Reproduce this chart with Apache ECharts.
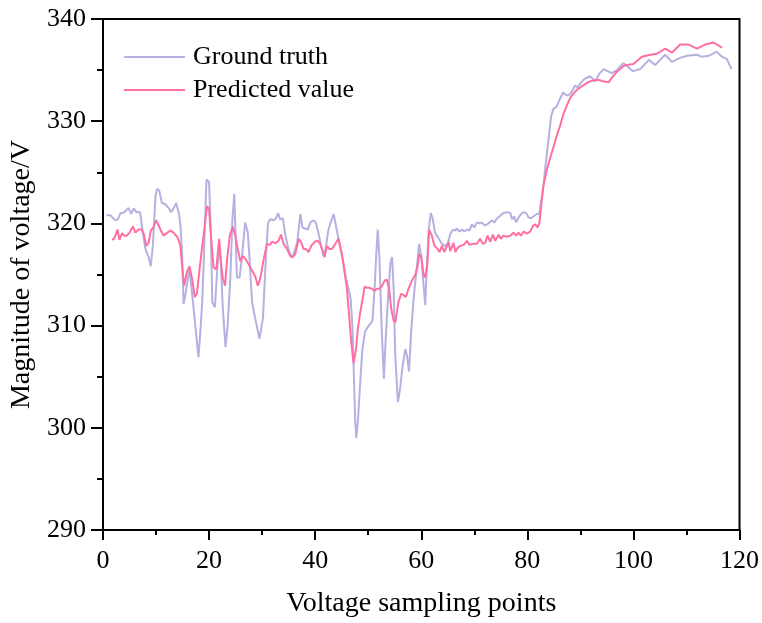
<!DOCTYPE html>
<html>
<head>
<meta charset="utf-8">
<script src="https://cdn.jsdelivr.net/npm/echarts@6/dist/echarts.min.js"></script>
<style>
html,body{margin:0;padding:0;background:#fff;}
#chart{width:762px;height:623px;}
</style>
</head>
<body>
<div id="chart"></div>
<script>
// Ground truth: sample positions and voltages
const gtX = [0.7,1.4,2.3,2.8,3.3,3.9,4.8,5.3,5.8,6.3,6.6,7.0,7.5,8.0,8.6,9.0,9.4,9.9,10.2,10.6,11.1,11.7,12.4,12.8,13.3,13.8,14.3,14.6,14.9,15.2,15.5,16.0,16.3,16.6,17.1,17.6,18.0,18.3,18.7,19.1,19.5,20.0,20.35,20.6,21.1,21.5,21.9,22.2,22.6,23.1,23.5,24.0,24.4,24.75,25.0,25.25,25.75,26.2,26.8,27.3,27.6,28.1,28.7,29.5,30.15,30.6,31.1,31.5,32.2,32.6,33.0,33.4,33.9,34.4,34.9,35.5,35.9,36.6,37.2,37.6,38.1,38.6,39.1,39.7,40.1,40.6,41.15,41.6,42.0,42.5,43.0,43.5,43.9,44.4,44.9,45.4,45.8,46.3,46.7,47.05,47.3,47.55,47.75,48.05,48.5,48.9,49.4,50.1,50.6,50.8,51.2,51.5,51.8,52.1,52.5,52.95,53.3,53.8,54.2,54.5,54.8,55.1,55.6,56.0,56.5,57.0,57.3,57.7,58.1,58.55,59.2,59.6,60.0,60.4,60.75,61.0,61.4,61.8,62.1,62.6,63.3,63.9,64.5,65.0,65.5,66.0,66.4,66.7,67.2,67.7,68.1,68.6,69.1,69.55,70.0,70.5,71.0,71.4,71.9,72.4,72.9,73.3,73.8,74.3,74.8,75.2,75.65,76.3,76.8,77.1,77.5,77.9,78.35,78.8,79.3,79.8,80.2,80.7,81.2,81.7,82.3,83.0,83.5,84.0,84.5,84.9,85.5,86.0,86.7,87.2,87.7,88.3,89.0,89.5,90.0,90.5,91.0,91.85,92.8,93.5,94.4,95.9,96.9,98.1,99.9,101.3,102.9,104.1,106.0,107.25,108.8,110.1,112.0,112.9,114.2,115.7,116.7,117.6,118.5];
const gtY = [320.8,320.8,320.3,320.4,321.0,321.05,321.5,320.95,321.45,321.1,321.2,321.1,319.1,317.5,316.7,315.8,317.8,322.7,323.4,323.2,322.0,321.9,321.5,321.1,321.45,322.0,321.0,319.8,317.2,312.1,312.9,314.6,315.4,314.1,311.6,309.0,306.9,309.0,312.3,317.8,324.3,324.0,318.8,312.3,311.8,315.2,317.8,316.2,311.6,307.9,310.0,314.6,320.4,322.9,318.8,314.7,314.7,316.7,320.1,319.1,316.8,312.3,310.7,308.7,310.7,315.5,320.0,320.4,320.3,320.5,321.0,320.4,320.5,318.8,317.6,316.7,317.0,318.1,320.9,319.6,319.5,319.4,320.1,320.3,320.1,319.1,317.8,316.8,317.6,319.4,320.2,320.9,319.8,318.5,317.2,315.9,314.6,313.6,312.6,309.7,305.1,300.6,299.0,300.6,304.5,307.7,309.4,310.0,310.3,310.5,313.6,316.8,319.4,316.8,310.3,304.8,308.7,313.3,316.2,316.7,313.6,307.1,302.5,303.8,306.1,307.7,307.1,305.5,309.4,312.6,315.9,318.0,316.8,314.2,312.0,315.2,319.4,321.0,320.6,319.1,318.5,318.0,317.8,318.0,319.0,319.4,319.3,319.5,319.2,319.4,319.2,319.4,319.3,319.9,319.6,320.1,320.0,320.1,319.8,319.9,320.1,320.3,320.1,320.5,320.7,320.9,321.05,321.1,321.0,320.4,320.7,320.1,320.6,320.9,321.1,321.0,320.6,320.5,320.7,320.9,321.0,323.5,326.0,328.3,330.5,331.2,331.4,332.0,332.8,332.6,332.5,332.8,333.5,333.3,333.7,334.0,334.2,334.4,333.9,334.6,335.1,334.7,335.0,335.7,334.9,335.1,336.0,335.5,336.5,335.8,336.2,336.4,336.5,336.3,336.4,336.8,336.3,336.1,335.1];

// Predicted value: sample positions and voltages
const predX = [1.7,2.1,2.75,3.1,3.6,4.0,4.5,5.0,5.65,6.1,6.7,7.3,7.7,8.15,8.6,9.0,9.5,10.0,10.5,10.9,11.4,11.9,12.7,13.3,14.1,14.6,14.9,15.3,15.8,16.3,16.8,17.3,17.7,18.2,18.65,19.1,19.6,20.0,20.35,20.85,21.35,21.9,22.3,22.6,23.0,23.4,23.9,24.45,24.95,25.4,25.9,26.4,26.9,27.45,28.1,28.7,29.2,29.65,30.3,30.9,31.5,31.85,32.5,33.1,33.55,34.05,34.7,35.3,35.75,36.25,36.9,37.4,37.8,38.25,38.75,39.25,39.9,40.5,40.95,41.4,41.8,42.2,42.65,43.15,43.8,44.4,45.05,45.55,46.0,46.4,46.8,47.25,47.7,48.05,48.5,48.95,49.3,49.75,50.2,50.7,51.2,51.65,52.1,52.6,53.1,53.5,53.95,54.35,54.8,55.1,55.4,55.7,56.2,56.65,57.1,57.6,58.25,58.9,59.35,59.6,60.0,60.45,60.75,61.15,61.5,62.0,62.5,63.1,63.45,63.9,64.35,64.7,65.15,65.45,65.8,66.1,66.4,66.85,67.35,68.0,68.6,69.1,69.9,70.5,71.1,71.6,72.05,72.5,73.0,73.5,73.95,74.6,75.0,75.5,76.15,76.8,77.4,77.9,78.35,78.8,79.3,79.9,80.55,81.05,81.5,81.95,82.3,82.6,83.0,83.7,84.3,84.9,85.5,86.2,86.8,87.5,88.1,88.7,89.4,90.0,90.8,91.6,92.5,93.4,94.3,95.3,96.0,96.9,98.1,98.8,100.0,101.6,103.2,104.4,106.0,107.25,108.8,110.4,112.0,113.5,115.1,116.7];
const predY = [318.4,318.5,319.4,318.4,319.05,318.8,318.8,319.1,319.7,319.1,319.4,319.4,318.95,317.8,318.1,319.3,319.6,320.3,319.8,319.3,318.8,319.0,319.3,319.1,318.6,317.8,315.9,313.9,315.2,315.8,314.6,312.8,313.1,315.5,317.5,319.4,321.7,321.4,318.8,315.7,315.5,318.5,315.9,314.6,313.9,316.5,318.8,319.7,318.8,317.5,316.3,316.8,316.5,316.0,315.4,314.8,313.9,314.6,316.5,318.0,317.9,318.2,318.07,318.3,318.9,318.0,317.5,316.8,316.7,317.0,318.5,318.1,317.5,317.5,317.2,317.8,318.2,318.3,318.0,317.3,316.7,317.8,317.5,317.5,318.0,318.5,317.0,315.2,313.6,311.0,308.4,306.3,307.7,309.7,311.3,312.6,313.8,313.7,313.7,313.6,313.4,313.6,313.6,313.9,314.4,314.5,313.6,311.6,310.5,310.3,311.3,312.3,313.1,313.0,312.8,313.6,314.4,315.0,315.9,317.0,316.7,315.0,314.7,316.0,319.4,318.8,317.8,317.5,317.2,317.8,317.2,317.2,318.2,317.3,317.3,318.1,317.2,317.6,317.8,317.9,318.3,317.9,318.0,318.0,318.5,318.0,318.1,318.8,318.2,318.9,318.3,318.9,318.5,318.8,318.7,318.8,319.1,318.8,319.1,318.8,319.2,319.0,319.2,319.75,319.9,319.6,320.1,321.7,323.6,325.3,326.4,327.4,328.5,329.6,330.7,331.6,332.3,332.7,333.1,333.3,333.6,333.85,334.0,334.05,333.9,333.8,334.3,334.85,335.4,335.5,335.6,336.3,336.5,336.6,337.1,336.7,337.5,337.5,337.1,337.5,337.7,337.2];

const seriesNames = ['Ground truth', 'Predicted value'];
const xTitle = 'Voltage sampling points';
const yTitle = 'Magnitude of voltage/V';

const zip = (xs, ys) => xs.map((x, i) => [x, ys[i]]);
const FONT = "'Liberation Serif', 'Times New Roman', serif";
const GT_COLOR = '#b5b1e1';
const PRED_COLOR = '#ff6fa3';

const chart = echarts.init(document.getElementById('chart'), null, {renderer: 'canvas'});
chart.setOption({
  backgroundColor: '#ffffff',
  animation: false,
  grid: {left: 103, right: 22, top: 19, bottom: 91, show: true, borderColor: '#000', borderWidth: 2, backgroundColor: 'transparent'},
  legend: {
    orient: 'vertical', left: 124, top: 42, padding: 0,
    icon: 'rect', itemWidth: 61, itemHeight: 2, itemGap: 3,
    data: seriesNames,
    textStyle: {fontFamily: FONT, fontSize: 26, color: '#000', lineHeight: 30, padding: [0,0,0,3]}
  },
  xAxis: {
    type: 'value', min: 0, max: 120, interval: 20,
    name: xTitle, nameLocation: 'middle', nameGap: 60,
    nameTextStyle: {fontFamily: FONT, fontSize: 28, color: '#000'},
    axisLine: {lineStyle: {color: '#000', width: 2}},
    axisTick: {length: 10, lineStyle: {color: '#000', width: 2}},
    minorTick: {show: true, splitNumber: 2, length: 5, lineStyle: {color: '#000', width: 2}},
    splitLine: {show: false},
    axisLabel: {fontFamily: FONT, fontSize: 26, color: '#000', margin: 18}
  },
  yAxis: {
    type: 'value', min: 290, max: 340, interval: 10,
    name: yTitle, nameLocation: 'middle', nameGap: 58,
    nameTextStyle: {fontFamily: FONT, fontSize: 28, color: '#000'},
    axisLine: {show: true, lineStyle: {color: '#000', width: 2}},
    axisTick: {show: true, length: 12, lineStyle: {color: '#000', width: 2}},
    minorTick: {show: true, splitNumber: 2, length: 6, lineStyle: {color: '#000', width: 2}},
    splitLine: {show: false},
    axisLabel: {fontFamily: FONT, fontSize: 26, color: '#000', margin: 17}
  },
  series: [
    {name: seriesNames[0], type: 'line', data: zip(gtX, gtY), symbol: 'none',
     lineStyle: {color: GT_COLOR, width: 2}, itemStyle: {color: GT_COLOR}, z: 2},
    {name: seriesNames[1], type: 'line', data: zip(predX, predY), symbol: 'none',
     lineStyle: {color: PRED_COLOR, width: 2}, itemStyle: {color: PRED_COLOR}, z: 3}
  ]
});
</script>
</body>
</html>
